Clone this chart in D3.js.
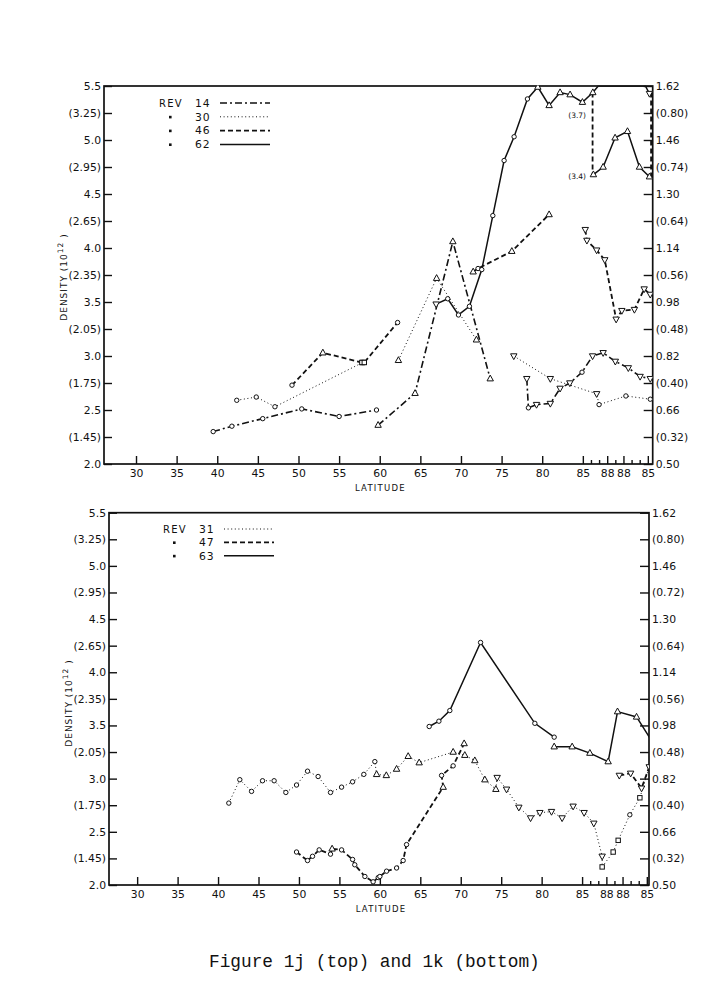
<!DOCTYPE html>
<html><head><meta charset="utf-8">
<script src="https://cdn.jsdelivr.net/npm/d3@7"></script>
<style>body{margin:0;background:#fff}svg{display:block}</style>
</head><body>
<svg id="c" width="716" height="997"></svg>
<script>
// ---------------- data ----------------
// latitude axis is a track coordinate: ascending lat up to ~89, then 178-lat on the way down
const tickVals = [30,35,40,45,50,55,60,65,70,75,80,85,88,90,93];
const tickLabels = ["30","35","40","45","50","55","60","65","70","75","80","85","88","88","85"];
const minorTicks = [86,87,89,91,92];
const leftTickVals = [5.5,5.25,5.0,4.75,4.5,4.25,4.0,3.75,3.5,3.25,3.0,2.75,2.5,2.25,2.0];
const leftLabels = ["5.5","(3.25)","5.0","(2.95)","4.5","(2.65)","4.0","(2.35)","3.5","(2.05)","3.0","(1.75)","2.5","(1.45)","2.0"];
const rightLabelsTop = ["1.62","(0.80)","1.46","(0.74)","1.30","(0.64)","1.14","(0.56)","0.98","(0.48)","0.82","(0.40)","0.66","(0.32)","0.50"];
const rightLabelsBot = ["1.62","(0.80)","1.46","(0.72)","1.30","(0.64)","1.14","(0.56)","0.98","(0.48)","0.82","(0.40)","0.66","(0.32)","0.50"];

// top panel (Figure 1j): [lat, density, marker]
const rev14a = [[39.5,2.30,"o"],[41.8,2.35,"o"],[45.6,2.42,"o"],[50.4,2.51,"o"],[55.0,2.44,"o"],[59.6,2.50,"o"]];
const rev14b = [[59.8,2.36,"^"],[64.35,2.655,"^"],[69.0,4.06,"^"],[73.6,2.79,"^"]];
const rev14c = [[78.1,2.79,"v"],[78.3,2.52,"o"],[79.3,2.55,"v"],[81.0,2.56,"v"],[82.2,2.70,"v"],[83.4,2.75,"v"],[84.9,2.85,"o"],[86.2,3.00,"v"],[87.5,3.03,"v"],[89.0,2.95,"v"],[90.6,2.89,"v"],[92.05,2.81,"v"],[93.3,2.79,"v"]];
const rev30a = [[42.4,2.59,"o"],[44.8,2.62,"o"],[47.1,2.53,"o"],[57.9,2.94,"s"]];
const rev30b = [[62.3,2.96,"^"],[67.0,3.72,"^"],[71.9,3.15,"^"]];
const rev30c = [[76.5,3.00,"v"],[81.0,2.79,"v"],[86.7,2.65,"v"],[87.0,2.55,"o"],[90.3,2.63,"o"],[93.3,2.60,"o"]];
const rev46a = [[49.2,2.73,"o"],[53.0,3.03,"^"],[57.8,2.94,"s"],[58.1,2.94,"s"],[62.2,3.31,"o"]];
const rev46b = [[71.5,3.78,"^"],[72.1,3.81,"o"],[76.26,3.97,"^"],[80.85,4.31,"^"]];
const rev46c = [[85.3,4.17,"v"],[85.5,4.07,"v"],[86.7,3.98,"v"],[87.7,3.89,"v"],[89.1,3.34,"v"],[89.8,3.42,"v"],[91.35,3.43,"v"],[92.55,3.62,"v"],[93.3,3.57,"v"]];
const rev46v1 = [[86.2,5.44,null],[86.2,4.67,null]];
const rev46v2 = [[93.4,5.44,null],[93.4,4.66,null]];
const rev62a = [[66.94,3.48,"v"],[68.37,3.53,"o"],[69.69,3.38,"o"],[71.04,3.46,"o"],[72.56,3.80,"o"],[73.92,4.30,"o"],[75.31,4.81,"o"],[76.54,5.03,"o"],[78.18,5.38,"o"],[79.46,5.49,"^"],[80.85,5.32,"^"],[82.2,5.44,"^"],[83.43,5.42,"^"],[84.95,5.35,"^"],[86.23,5.44,"^"],[86.9,5.5,null],[92.7,5.5,null],[93.2,5.43,"v"]];
const rev62b = [[86.3,4.68,"^"],[87.5,4.75,"^"],[88.97,5.02,"^"],[90.5,5.08,"^"],[91.97,4.75,"^"],[93.2,4.66,"^"]];
const notesTop = [["(3.7)",84.3,5.20],["(3.4)",84.3,4.64]];

// bottom panel (Figure 1k)
const rev31 = [[41.33,2.77,"o"],[42.69,2.99,"o"],[44.14,2.88,"o"],[45.5,2.98,"o"],[46.93,2.98,"o"],[48.38,2.87,"o"],[49.7,2.94,"o"],[51.06,3.07,"o"],[52.37,3.02,"o"],[53.9,2.87,"o"],[55.27,2.92,"o"],[56.63,2.97,"o"],[58.02,3.04,"o"],[59.38,3.16,"o"],[59.6,3.04,"^"],[60.8,3.03,"^"],[62.07,3.09,"^"],[63.5,3.21,"^"],[64.86,3.15,"^"],[69.06,3.25,"^"],[70.5,3.22,"^"],[71.74,3.17,"^"],[72.98,2.99,"^"],[74.34,2.90,"^"],[74.5,3.01,"v"],[75.66,2.90,"v"],[77.18,2.73,"v"],[78.63,2.63,"v"],[79.78,2.68,"v"],[81.22,2.69,"v"],[82.53,2.63,"v"],[83.89,2.74,"v"],[85.25,2.68,"v"],[86.45,2.58,"v"],[87.48,2.27,"v"],[87.48,2.17,"s"],[88.84,2.31,"s"],[89.46,2.42,"s"],[90.9,2.66,"o"],[92.14,2.82,"s"],[93.3,3.11,"v"]];
const rev47a = [[49.7,2.31,"o"],[51.06,2.23,"o"],[51.68,2.27,"o"],[52.5,2.33,"o"],[53.9,2.29,"o"],[54.1,2.34,"^"],[55.27,2.33,"o"],[56.63,2.24,"o"],[56.9,2.19,"o"],[58.15,2.08,"o"],[59.17,2.03,"o"],[59.8,2.07,"o"],[60.0,2.08,"o"],[60.83,2.13,"o"],[62.07,2.16,"o"],[62.88,2.23,"o"],[63.3,2.38,"o"],[67.83,2.92,"^"],[67.63,3.03,"o"],[69.06,3.12,"o"],[70.42,3.33,"^"]];
const rev47b = [[89.6,3.03,"v"],[91.0,3.05,"v"],[92.35,2.91,"v"],[93.3,3.11,null]];
const rev63a = [[66.1,3.49,"o"],[67.3,3.54,"o"],[68.65,3.64,"o"],[72.45,4.28,"o"],[79.16,3.52,"o"],[81.55,3.39,"o"]];
const rev63b = [[81.55,3.30,"^"],[83.77,3.30,"^"],[85.96,3.24,"^"],[88.22,3.16,"^"],[89.38,3.63,"^"],[91.73,3.58,"^"],[93.4,3.38,null]];

const legendTop = [["14","dashdot"],["30","dot"],["46","dash"],["62","solid"]];
const legendBot = [["31","dot"],["47","dash"],["63","solid"]];

// ---------------- drawing ----------------
const svg = d3.select("#c");
const FONT = "DejaVu Sans, Liberation Sans, sans-serif";
const styles = {
  solid:   {w:1.5, dash:null},
  dash:    {w:1.8, dash:"5,3"},
  dot:     {w:1.0, dash:"1,2.6"},
  dashdot: {w:1.6, dash:"7,3,2,3"}
};

function panel(cfg){
  const g = svg.append("g");
  const x = d3.scaleLinear().domain(cfg.xd).range([cfg.L, cfg.R]);
  const y = d3.scaleLinear().domain([2.0,5.5]).range([cfg.B, cfg.T]);
  const clipId = "clip"+cfg.id;
  svg.append("clipPath").attr("id",clipId).append("rect")
     .attr("x",cfg.L).attr("y",cfg.T-0.5).attr("width",cfg.R-cfg.L).attr("height",cfg.B-cfg.T+1);

  g.append("g").attr("transform",`translate(0,${cfg.B})`)
    .call(d3.axisBottom(x).tickValues(tickVals).tickFormat((d,i)=>tickLabels[i]).tickSize(-8).tickPadding(5));
  g.append("g").attr("transform",`translate(0,${cfg.B})`)
    .call(d3.axisBottom(x).tickValues(minorTicks).tickFormat("").tickSize(-4));
  g.append("g").attr("transform",`translate(${cfg.L},0)`)
    .call(d3.axisLeft(y).tickValues(leftTickVals).tickFormat((d,i)=>leftLabels[i]).tickSize(-8).tickPadding(3));
  g.append("g").attr("transform",`translate(${cfg.R},0)`)
    .call(d3.axisRight(y).tickValues(leftTickVals).tickFormat((d,i)=>cfg.rl[i]).tickSize(-9).tickPadding(3));
  g.selectAll(".domain").remove();
  g.selectAll(".tick line").attr("stroke","#111").attr("stroke-width",1.4);
  g.selectAll(".tick text").attr("font-family",FONT).attr("font-size",10.8).attr("fill","#111");
  g.append("rect").attr("x",cfg.L).attr("y",cfg.T).attr("width",cfg.R-cfg.L).attr("height",cfg.B-cfg.T)
    .attr("fill","none").attr("stroke","#111").attr("stroke-width",1.7);

  g.append("text").attr("x",(cfg.L+cfg.R)/2+2).attr("y",cfg.B+27).attr("text-anchor","middle")
    .attr("font-family",FONT).attr("font-size",8.5).attr("letter-spacing",1.2).attr("fill","#111").text("LATITUDE");
  const yl = g.append("text").attr("transform",`translate(${cfg.L-37},${cfg.ylc}) rotate(-90)`)
    .attr("text-anchor","middle").attr("font-family",FONT).attr("font-size",9).attr("letter-spacing",1).attr("fill","#111");
  yl.append("tspan").text("DENSITY (10");
  yl.append("tspan").attr("dy",-4).attr("font-size",7.5).text("12");
  yl.append("tspan").attr("dy",4).text(" )");

  const line = d3.line().x(d=>x(d[0])).y(d=>y(d[1]));
  const data = g.append("g").attr("clip-path",`url(#${clipId})`);
  cfg.series.forEach(s=>{
    const st = styles[s.style];
    data.append("path").attr("d",line(s.pts)).attr("fill","none").attr("stroke","#111")
      .attr("stroke-width",st.w).attr("stroke-dasharray",st.dash);
  });
  cfg.series.forEach(s=>{
    s.pts.filter(d=>d[2]).forEach(d=>marker(data,x(d[0]),y(d[1]),d[2]));
  });
  (cfg.notes||[]).forEach(n=>{
    g.append("text").attr("x",x(n[1])).attr("y",y(n[2])).attr("text-anchor","middle")
      .attr("font-family",FONT).attr("font-size",7.5).attr("fill","#111").text(n[0]);
  });

  const lg = g.append("g");
  cfg.legend.forEach((d,i)=>{
    const cy = cfg.lg.y + i*cfg.lg.dy;
    if(i===0){
      lg.append("text").attr("x",cfg.lg.x).attr("y",cy+3.8).attr("font-family",FONT).attr("font-size",10)
        .attr("letter-spacing",1.3).attr("fill","#111").text("REV");
    } else {
      lg.append("rect").attr("x",cfg.lg.x+10).attr("y",cy-1).attr("width",2.6).attr("height",2.6).attr("fill","#111");
    }
    lg.append("text").attr("x",cfg.lg.x+36).attr("y",cy+3.8).attr("font-family",FONT).attr("font-size",10.8)
      .attr("letter-spacing",1).attr("fill","#111").text(d[0]);
    const st = styles[d[1]];
    lg.append("line").attr("x1",cfg.lg.x+61).attr("x2",cfg.lg.x+111).attr("y1",cy).attr("y2",cy)
      .attr("stroke","#111").attr("stroke-width",st.w).attr("stroke-dasharray",st.dash);
  });
}

function marker(g,cx,cy,t){
  if(t==="o"){
    g.append("circle").attr("cx",cx).attr("cy",cy).attr("r",2.2).attr("fill","#fff").attr("stroke","#111").attr("stroke-width",1);
  } else if(t==="^"){
    g.append("path").attr("d",`M${cx},${cy-3.6}L${cx+3.2},${cy+2.2}L${cx-3.2},${cy+2.2}Z`).attr("fill","#fff").attr("stroke","#111").attr("stroke-width",1);
  } else if(t==="v"){
    g.append("path").attr("d",`M${cx},${cy+3.6}L${cx+3.2},${cy-2.2}L${cx-3.2},${cy-2.2}Z`).attr("fill","#fff").attr("stroke","#111").attr("stroke-width",1);
  } else if(t==="s"){
    g.append("rect").attr("x",cx-2.2).attr("y",cy-2.2).attr("width",4.4).attr("height",4.4).attr("fill","#fff").attr("stroke","#111").attr("stroke-width",1);
  }
}

panel({id:"top", L:104, R:652.7, T:86, B:464, xd:[26.06,93.6], rl:rightLabelsTop, ylc:277,
  legend:legendTop, lg:{x:159, y:103, dy:13.8},
  notes:notesTop,
  series:[
    {pts:rev14a,style:"dashdot"},{pts:rev14b,style:"dashdot"},{pts:rev14c,style:"dashdot"},
    {pts:rev30a,style:"dot"},{pts:rev30b,style:"dot"},{pts:rev30c,style:"dot"},
    {pts:rev46a,style:"dash"},{pts:rev46b,style:"dash"},{pts:rev46c,style:"dash"},
    {pts:rev46v1,style:"dash"},{pts:rev46v2,style:"dash"},
    {pts:rev62a,style:"solid"},{pts:rev62b,style:"solid"}
  ]});

panel({id:"bot", L:109, R:649, T:512.7, B:885, xd:[26.52,93.27], rl:rightLabelsBot, ylc:703,
  legend:legendBot, lg:{x:163, y:529, dy:13.4},
  series:[
    {pts:rev31,style:"dot"},
    {pts:rev47a,style:"dash"},{pts:rev47b,style:"dash"},
    {pts:rev63a,style:"solid"},{pts:rev63b,style:"solid"}
  ]});

svg.append("text").attr("x",209).attr("y",967).attr("font-family","Liberation Mono, DejaVu Sans Mono, monospace")
  .attr("font-size",17.8).attr("fill","#111").text("Figure 1j (top) and 1k (bottom)");
</script>
</body></html>
